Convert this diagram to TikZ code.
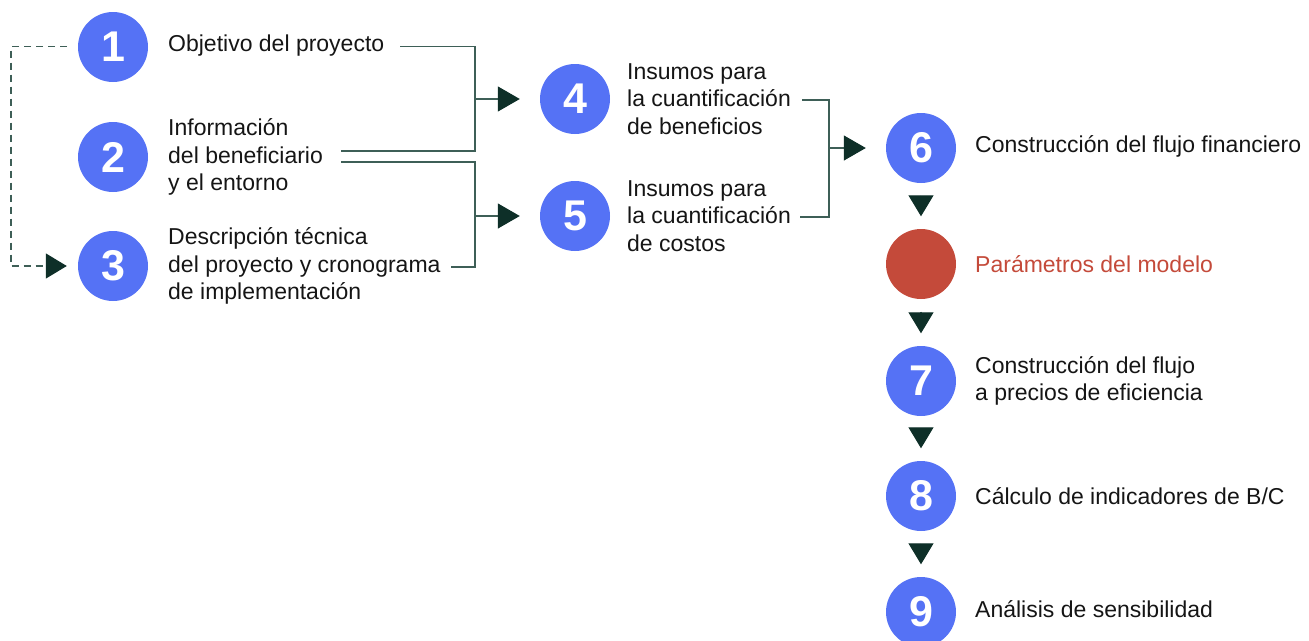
\documentclass[tikz,border=0pt]{standalone}
\usepackage{fontspec}
\setmainfont{Liberation Sans}
\usetikzlibrary{arrows.meta}
\definecolor{cblue}{HTML}{5572F5}
\definecolor{cred}{HTML}{C44A3A}
\definecolor{cdark}{HTML}{0E2F28}
\definecolor{cline}{HTML}{3E5F57}
\definecolor{ctext}{HTML}{151515}
\begin{document}
\begin{tikzpicture}[x=1pt,y=-1pt,
  num/.style={circle, fill=cblue, minimum size=70pt, inner sep=0pt, text=white,
    font=\fontsize{43}{43}\selectfont\bfseries},
  redc/.style={circle, fill=cred, minimum size=70pt, inner sep=0pt},
  lbl/.style={anchor=west, align=left, inner sep=0pt, text=ctext,
    font=\fontsize{23}{27.5}\selectfont},
  conn/.style={draw=cline, line width=1.2pt},
  harr/.style={conn, -{Triangle[length=22pt,width=25pt,color=cdark]}, shorten >=20pt},
  varr/.style={conn, -{Triangle[length=21pt,width=25pt,color=cdark]}, shorten <=12.5pt, shorten >=12.5pt},
  dashc/.style={conn, dash pattern=on 7pt off 5pt}
]
\useasboundingbox (0,0) rectangle (1309,640);

% circles
\node[num] (c1) at (113,47) {1};
\node[num] (c2) at (113,157) {2};
\node[num] (c3) at (113,266) {3};
\node[num] (c4) at (575,99) {4};
\node[num] (c5) at (575,216) {5};
\node[num] (c6) at (921,148) {6};
\node[redc] (cr) at (921,264) {};
\node[num] (c7) at (921,381) {7};
\node[num] (c8) at (921,496) {8};
\node[num] (c9) at (921,612) {9};

% labels
\node[lbl] (t1) at (168,46) {Objetivo del proyecto};
\node[lbl] (t2) at (168,157) {Información\\del beneficiario\\y el entorno};
\node[lbl] (t3) at (168,266) {Descripción técnica\\del proyecto y cronograma\\de implementación};
\node[lbl] (t4) at (627,99) {Insumos para\\la cuantificación\\de beneficios};
\node[lbl] (t5) at (627,216) {Insumos para\\la cuantificación\\de costos};
\node[lbl] (t6) at (975,146) {Construcción del flujo financiero};
\node[lbl, text=cred] (tr) at (975,264) {Parámetros del modelo};
\node[lbl] (t7) at (975,381) {Construcción del flujo\\a precios de eficiencia};
\node[lbl] (t8) at (975,496) {Cálculo de indicadores de B/C};
\node[lbl] (t9) at (975,609) {Análisis de sensibilidad};

% connector coordinates
\coordinate (b1) at (400,46.5);
\coordinate (b2) at (341,151);
\coordinate (j1) at (475,99);
\coordinate (b3) at (341,162);
\coordinate (b4) at (451,267);
\coordinate (j2) at (475,216);
\coordinate (b5) at (802,100);
\coordinate (b6) at (800,217);
\coordinate (j3) at (829,148);
\coordinate (d1) at (67,46.5);
\coordinate (d2) at (11,266);

% brackets
\draw[conn] (b1) -| (j1) |- (b2);
\draw[conn] (b3) -| (j2) |- (b4);
\draw[conn] (b5) -| (j3) |- (b6);

% horizontal arrows
\draw[harr] (j1) -- (c4);
\draw[harr] (j2) -- (c5);
\draw[harr] (j3) -- (c6);

% dashed feedback
\draw[dashc, -{Triangle[length=21pt,width=25pt,color=cdark]}, shorten >=11pt] (d1) -| (d2) -- (c3);

% vertical arrows
\draw[varr] (c6) -- (cr);
\draw[varr] (cr) -- (c7);
\draw[varr] (c7) -- (c8);
\draw[varr] (c8) -- (c9);
\end{tikzpicture}
\end{document}
